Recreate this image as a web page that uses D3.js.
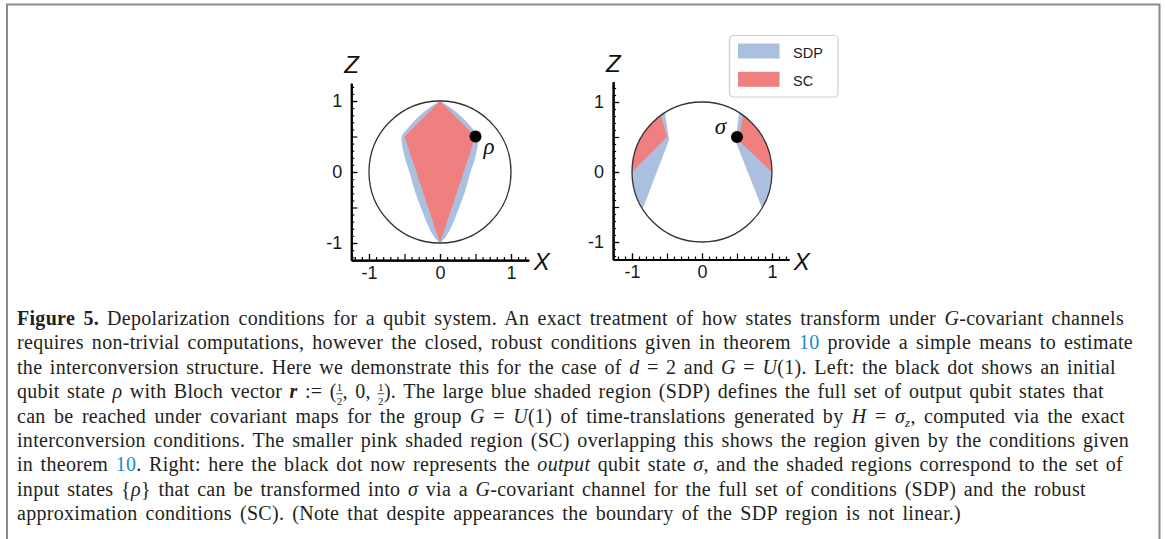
<!DOCTYPE html>
<html>
<head>
<meta charset="utf-8">
<script src="https://cdn.jsdelivr.net/npm/d3@7"></script>
<style>
  body { margin: 0; background: #fff; }
  svg text { font-family: "Liberation Sans", Arial, sans-serif; }
  .cap { font-family: "Liberation Serif", "Times New Roman", serif; font-size: 20px; letter-spacing: 0.3px; fill: #231f20; }
</style>
</head>
<body>
<svg id="fig" width="1165" height="539"></svg>
<script>
// axis ticks (same on both panels)
var labelTicks = [-1, 0, 1];
var halfTicks = [-1, -0.5, 0, 0.5, 1];
var minorTicks = [-1.2, -1.1, -0.9, -0.8, -0.7, -0.6, -0.4, -0.3, -0.2, -0.1,
                  0.1, 0.2, 0.3, 0.4, 0.6, 0.7, 0.8, 0.9, 1.1, 1.2];

// left panel: output states reachable from rho
var rhoPoint = [0.5, 0.5];
var scLeft = [[0, 1], [0.5, 0.5], [0, -1], [-0.5, 0.5]];
var sdpLeftRight = [[0, 1], [0.17, 0.89], [0.33, 0.75], [0.46, 0.61], [0.54, 0.5], [0.53, 0.36],
                    [0.49, 0.18], [0.43, 0], [0.36, -0.25], [0.27, -0.5], [0.17, -0.75], [0.09, -0.9], [0, -1]];
var sdpLeftLeft = [[0, -1], [-0.09, -0.9], [-0.17, -0.75], [-0.27, -0.5], [-0.36, -0.25], [-0.43, 0],
                   [-0.49, 0.18], [-0.53, 0.36], [-0.54, 0.5], [-0.46, 0.61], [-0.33, 0.75], [-0.17, 0.89], [0, 1]];

// right panel: input states that can reach sigma
// each region = arc of the Bloch circle (degrees, from -> to) + inner corners
var sigmaPoint = [0.5, 0.5];
var sdpRightArcs = [[58, -31], [122, 212]];
var sdpRightInner = [[[0.48, 0.44]], [[-0.47, 0.46]]];
var scRightArcs = [[54, 0], [126, 180]];
var scRightInner = [[[0.52, 0.45]], [[-0.5, 0.5]]];

var legendLabels = ["SDP", "SC"];
var COLORS = {sdp: "#aac0de", sc: "#f07f80"};

// caption, one entry per printed line: [text, style]
var captionLines = [
  [["Figure 5.", "b"], ["Depolarization conditions for a qubit system. An exact treatment of how states transform under ", "gap"], ["G", "i"], ["-covariant channels", ""]],
  [["requires non-trivial computations, however the closed, robust conditions given in theorem ", ""], ["10", "l"], [" provide a simple means to estimate", ""]],
  [["the interconversion structure. Here we demonstrate this for the case of ", ""], ["d", "i"], [" = 2 and ", ""], ["G", "i"], [" = ", ""], ["U", "i"], ["(1). Left: the black dot shows an initial", ""]],
  [["qubit state ", ""], ["ρ", "i"], [" with Bloch vector ", ""], ["r", "bi"], [" := (", ""], ["1|2", "fr"], [", 0, ", ""], ["1|2", "fr"], ["). The large blue shaded region (SDP) defines the full set of output qubit states that", ""]],
  [["can be reached under covariant maps for the group ", ""], ["G", "i"], [" = ", ""], ["U", "i"], ["(1) of time-translations generated by ", ""], ["H", "i"], [" = ", ""], ["σ", "i"], ["z", "sub"], [", computed via the exact", ""]],
  [["interconversion conditions. The smaller pink shaded region (SC) overlapping this shows the region given by the conditions given", ""]],
  [["in theorem ", ""], ["10", "l"], [". Right: here the black dot now represents the ", ""], ["output", "i"], [" qubit state ", ""], ["σ", "i"], [", and the shaded regions correspond to the set of", ""]],
  [["input states {", ""], ["ρ", "i"], ["} that can be transformed into ", ""], ["σ", "i"], [" via a ", ""], ["G", "i"], ["-covariant channel for the full set of conditions (SDP) and the robust", ""]],
  [["approximation conditions (SC). (Note that despite appearances the boundary of the SDP region is not linear.)", ""]]
];
var captionEnds = [1124, 1133, 1116, 1104, 1125, 1129, 1123, 1086, 961];

var svg = d3.select("#fig");

// grey frame around the figure
svg.append("path")
  .attr("d", "M7,539V4.5H1159.5V539")
  .attr("fill", "none")
  .attr("stroke", "#8a8a8a")
  .attr("stroke-width", 2);

function drawPanel(cfg) {
  var x = d3.scaleLinear().domain([-1, 1]).range([cfg.cx - cfg.u, cfg.cx + cfg.u]);
  var z = d3.scaleLinear().domain([-1, 1]).range([cfg.cz + cfg.u, cfg.cz - cfg.u]);
  var g = svg.append("g");
  var r = x(1) - x(0);

  // regions on the unit circle: arc + straight inner edges
  function arcRegion(arc, inner) {
    var p = d3.path();
    var a0 = -arc[0] * Math.PI / 180, a1 = -arc[1] * Math.PI / 180;
    p.moveTo(x(Math.cos(-a0)), z(Math.sin(-a0)));
    p.arc(x(0), z(0), r, a0, a1, arc[1] > arc[0]);
    inner.forEach(function(d) { p.lineTo(x(d[0]), z(d[1])); });
    p.closePath();
    return p.toString();
  }

  var smooth = d3.line().x(function(d) { return x(d[0]); }).y(function(d) { return z(d[1]); })
    .curve(d3.curveCatmullRom.alpha(0.5));
  var straight = d3.line().x(function(d) { return x(d[0]); }).y(function(d) { return z(d[1]); });

  if (cfg.sdpEdges) {
    cfg.sdpEdges.forEach(function(e) {
      g.append("path").attr("d", smooth(e) + "L" + x(0) + "," + z(0) + "Z").attr("fill", COLORS.sdp);
    });
  }
  if (cfg.scPoly) {
    g.append("path").attr("d", straight(cfg.scPoly) + "Z").attr("fill", COLORS.sc);
  }
  if (cfg.sdpArcs) {
    cfg.sdpArcs.forEach(function(a, i) {
      g.append("path").attr("d", arcRegion(a, cfg.sdpInner[i])).attr("fill", COLORS.sdp);
    });
    cfg.scArcs.forEach(function(a, i) {
      g.append("path").attr("d", arcRegion(a, cfg.scInner[i])).attr("fill", COLORS.sc);
    });
  }

  // Bloch circle
  g.append("circle")
    .attr("cx", x(0)).attr("cy", z(0)).attr("r", r)
    .attr("fill", "none").attr("stroke", "#333").attr("stroke-width", 1.3);

  // state dot + label
  g.append("circle")
    .attr("cx", x(cfg.dot[0])).attr("cy", z(cfg.dot[1])).attr("r", 6)
    .attr("fill", "#000");
  g.append("text")
    .attr("x", x(cfg.dot[0]) + cfg.labDx).attr("y", z(cfg.dot[1]) + cfg.labDy)
    .attr("text-anchor", cfg.labAnchor)
    .style("font-family", "'Liberation Serif', serif").style("font-style", "italic")
    .style("font-size", "23px").attr("fill", "#111")
    .text(cfg.label);

  // axes: frame corner at (xext[0], zext[0])
  var xa = d3.scaleLinear().domain(cfg.xext).range([x(cfg.xext[0]), x(cfg.xext[1])]);
  var za = d3.scaleLinear().domain(cfg.zext).range([z(cfg.zext[0]), z(cfg.zext[1])]);
  var ox = xa(cfg.xext[0]), oz = za(cfg.zext[0]);

  function styleAxis(sel) {
    sel.select(".domain").attr("stroke", "#000").attr("stroke-width", 1.8);
    sel.selectAll(".tick line").attr("stroke", "#000").attr("stroke-width", 1.2);
    sel.selectAll(".tick text").style("font-size", "18px").attr("fill", "#1a1a1a");
  }
  var fmt = function(d) { return String(d); };

  g.append("g").attr("transform", "translate(0," + oz + ")")
    .call(d3.axisBottom(xa).tickValues(minorTicks).tickSizeInner(-3).tickSizeOuter(0).tickFormat(""))
    .call(styleAxis);
  g.append("g").attr("transform", "translate(0," + oz + ")")
    .call(d3.axisBottom(xa).tickValues(halfTicks).tickSizeInner(-6).tickSizeOuter(0).tickFormat(""))
    .call(styleAxis);
  g.append("g").attr("transform", "translate(0," + oz + ")")
    .call(d3.axisBottom(xa).tickValues(labelTicks).tickSizeInner(-6).tickSizeOuter(0).tickPadding(6).tickFormat(fmt))
    .call(styleAxis);

  g.append("g").attr("transform", "translate(" + ox + ",0)")
    .call(d3.axisLeft(za).tickValues(minorTicks).tickSizeInner(-3).tickSizeOuter(0).tickFormat(""))
    .call(styleAxis);
  g.append("g").attr("transform", "translate(" + ox + ",0)")
    .call(d3.axisLeft(za).tickValues(halfTicks).tickSizeInner(-6).tickSizeOuter(0).tickFormat(""))
    .call(styleAxis);
  g.append("g").attr("transform", "translate(" + ox + ",0)")
    .call(d3.axisLeft(za).tickValues(labelTicks).tickSizeInner(-6).tickSizeOuter(0).tickPadding(9).tickFormat(fmt))
    .call(styleAxis);

  // axis names
  g.append("text").attr("x", ox - 7).attr("y", za(cfg.zext[1]) - 10)
    .style("font-style", "italic").style("font-size", "24px").attr("fill", "#111").text("Z");
  g.append("text").attr("x", xa(cfg.xext[1]) + 5).attr("y", oz + 10)
    .style("font-style", "italic").style("font-size", "24px").attr("fill", "#111").text("X");
}

drawPanel({
  cx: 440, cz: 172, u: 71, xext: [-1.25, 1.25], zext: [-1.24, 1.25],
  sdpEdges: [sdpLeftRight, sdpLeftLeft],
  scPoly: scLeft,
  dot: rhoPoint, label: "ρ", labDx: 8, labDy: 17, labAnchor: "start"
});

drawPanel({
  cx: 702, cz: 172, u: 70, xext: [-1.27, 1.24], zext: [-1.25, 1.29],
  sdpArcs: sdpRightArcs, sdpInner: sdpRightInner,
  scArcs: scRightArcs, scInner: scRightInner,
  dot: sigmaPoint, label: "σ", labDx: -11, labDy: -3, labAnchor: "end"
});

// legend
var leg = svg.append("g").attr("transform", "translate(729.5,35.5)");
leg.append("rect").attr("width", 108.5).attr("height", 61.5).attr("rx", 4)
  .attr("fill", "#fff").attr("stroke", "#cfcfcf").attr("stroke-width", 1.2);
legendLabels.forEach(function(lab, i) {
  leg.append("rect").attr("x", 8.5).attr("y", 8 + i * 28.3).attr("width", 41.5).attr("height", 15)
    .attr("fill", i === 0 ? COLORS.sdp : COLORS.sc);
  leg.append("text").attr("x", 63.5).attr("y", 22.5 + i * 27.5)
    .style("font-size", "14.5px").attr("fill", "#222").text(lab);
});

// caption
var capStart = 17, capBase = 325, capStep = 24.4;
captionLines.forEach(function(line, li) {
  var t = svg.append("text").attr("class", "cap")
    .attr("x", capStart).attr("y", capBase + li * capStep);
  var back = 0, bars = [];
  line.forEach(function(seg) {
    var s = seg[1];
    if (s === "fr") {
      // stacked fraction: numerator up, denominator down, bar drawn after layout
      var parts = seg[0].split("|");
      var top = t.append("tspan").attr("dy", -7.5 + back).style("font-size", "11px").text(parts[0]);
      t.append("tspan").attr("dx", -5.8).attr("dy", 14).style("font-size", "11px").text(parts[1]);
      bars.push(top);
      back = -6.5;
      return;
    }
    var sp = t.append("tspan").text(seg[0]);
    var dy = back;
    back = 0;
    if (s === "b") sp.style("font-weight", "bold");
    if (s === "i") sp.style("font-style", "italic");
    if (s === "bi") sp.style("font-style", "italic").style("font-weight", "bold");
    if (s === "l") sp.attr("fill", "#1a8ad4");
    if (s === "gap") sp.attr("dx", 8);
    if (s === "sub") { sp.style("font-style", "italic").style("font-size", "13px"); dy += 4; back = -4; }
    if (dy) sp.attr("dy", dy);
  });
  // stretch word spacing so each line ends where it does in print
  var node = t.node();
  var bb0 = node.getBBox();
  var natural = bb0.x + bb0.width - capStart;
  var spaces = (node.textContent.match(/ /g) || []).length;
  var ws = (captionEnds[li] - capStart - natural) / Math.max(spaces, 1);
  t.style("word-spacing", ws + "px");
  bars.forEach(function(b) {
    var bb = b.node().getBBox();
    svg.append("line")
      .attr("x1", bb.x - 0.5).attr("x2", bb.x + bb.width + 0.5)
      .attr("y1", capBase + li * capStep - 4.5).attr("y2", capBase + li * capStep - 4.5)
      .attr("stroke", "#231f20").attr("stroke-width", 0.8);
  });
});
</script>
</body>
</html>
